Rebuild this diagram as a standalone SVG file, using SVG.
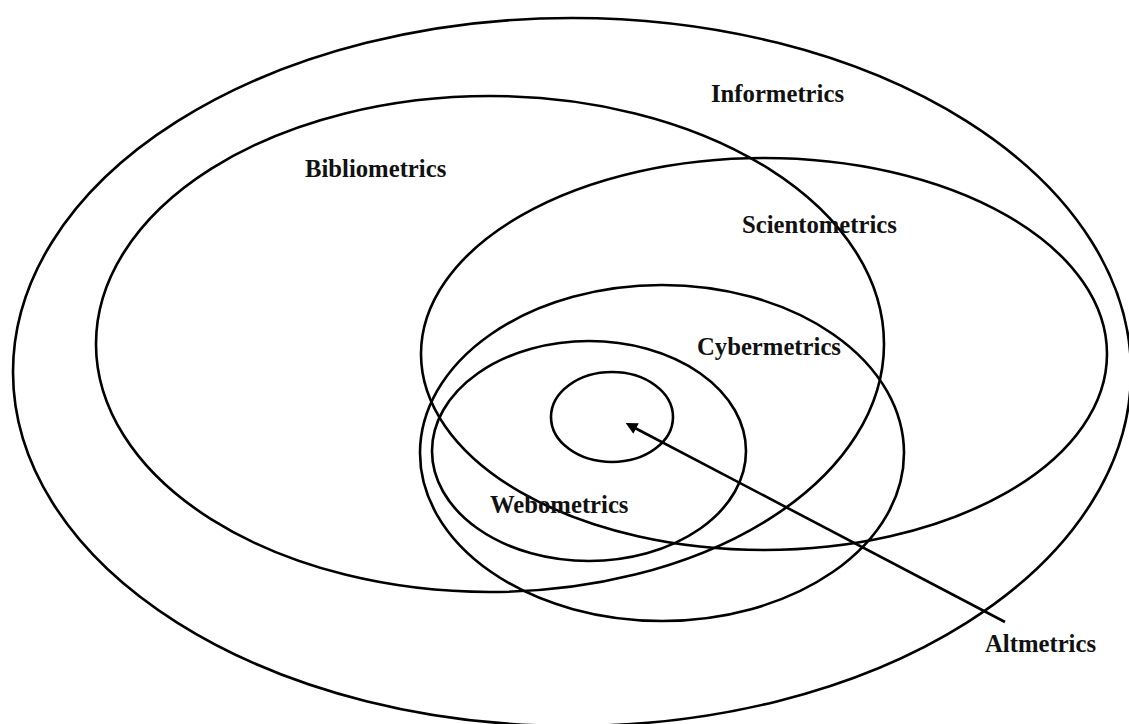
<svg xmlns="http://www.w3.org/2000/svg" width="1129" height="724" viewBox="0 0 1129 724">
  <defs>
    <style>
      .ring { fill: none; stroke: #000; stroke-width: 2.6; }
      .label { font-family: "Liberation Serif", "Times New Roman", serif; font-weight: bold; font-size: 24.7px; fill: #111; }
      .link { stroke: #000; stroke-width: 2.6; fill: none; }
    </style>
    <marker id="head" viewBox="0 0 10 10" refX="1" refY="5" markerWidth="5.5" markerHeight="4.5" orient="auto-start-reverse" markerUnits="strokeWidth">
      <path d="M0,0 L10,5 L0,10 z" fill="#000"/>
    </marker>
  </defs>
  <rect width="1129" height="724" fill="#fff"/>

  <g id="informetrics">
    <ellipse class="ring" cx="572" cy="372" rx="559" ry="354"/>
    <text class="label" x="711" y="102">Informetrics</text>
  </g>

  <g id="bibliometrics">
    <ellipse class="ring" cx="490" cy="344" rx="394" ry="248"/>
    <text class="label" x="305" y="177">Bibliometrics</text>
  </g>

  <g id="scientometrics">
    <ellipse class="ring" cx="764" cy="354" rx="343" ry="196"/>
    <text class="label" x="742" y="233">Scientometrics</text>
  </g>

  <g id="cybermetrics">
    <ellipse class="ring" cx="662" cy="453" rx="242" ry="168"/>
    <text class="label" x="697" y="355">Cybermetrics</text>
  </g>

  <g id="webometrics">
    <ellipse class="ring" cx="589" cy="451" rx="157" ry="110"/>
    <text class="label" x="490" y="513">Webometrics</text>
  </g>

  <g id="altmetrics">
    <ellipse class="ring" cx="612" cy="417" rx="61" ry="45"/>
    <text class="label" x="985" y="652">Altmetrics</text>
  </g>

  <g id="connectors">
    <line class="link" x1="1005" y1="622" x2="635" y2="428" marker-end="url(#head)"/>
  </g>
</svg>
